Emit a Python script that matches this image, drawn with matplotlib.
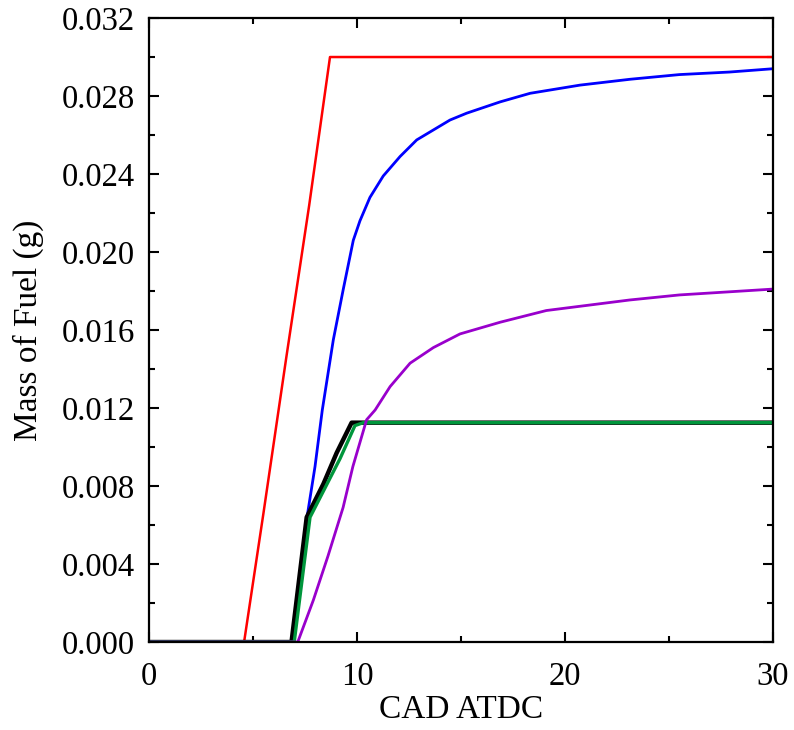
#!/usr/bin/env python
"""Cumulative injected / evaporated fuel mass vs crank angle."""

import matplotlib

matplotlib.use("Agg")
import matplotlib.pyplot as plt
from matplotlib.ticker import MultipleLocator, FormatStrFormatter

plt.rcParams["font.family"] = ["Liberation Serif", "DejaVu Serif"]

# data (CAD ATDC, g)
red_x = [0, 4.57, 5.5, 6.6, 7.7, 8.7, 30]
red_y = [0, 0, 0.0066, 0.0146, 0.0224, 0.030, 0.030]

blue_x = [0, 6.92, 7.2, 7.58, 7.98, 8.33, 8.86, 9.34, 9.82, 10.14, 10.62, 11.26,
          12.07, 12.87, 13.67, 14.47, 15.27, 16.88, 18.32, 20.72, 23.13, 25.5,
          27.9, 30]
blue_y = [0, 0, 0.0022, 0.0063, 0.0090, 0.0119, 0.0155, 0.0181, 0.0206, 0.0216,
          0.0228, 0.0239, 0.0249, 0.02575, 0.02626, 0.02677, 0.02712, 0.0277,
          0.02814, 0.02856, 0.02886, 0.0291, 0.02923, 0.0294]

purple_x = [0, 7.15, 7.9, 8.6, 9.33, 9.8, 10.46, 10.87, 11.59, 12.55, 13.67,
            14.95, 16.88, 19.1, 23.1, 25.5, 30]
purple_y = [0, 0, 0.00215, 0.0044, 0.0069, 0.0090, 0.0114, 0.0119, 0.0131,
            0.0143, 0.0151, 0.0158, 0.0164, 0.0170, 0.01754, 0.0178, 0.0181]

black_x = [0, 6.85, 7.58, 8.38, 9.02, 9.74, 30]
black_y = [0, 0, 0.0064, 0.0081, 0.0097, 0.01125, 0.01125]

green_x = [0, 6.98, 7.74, 8.46, 9.18, 9.9, 10.3, 30]
green_y = [0, 0, 0.0064, 0.0079, 0.0094, 0.0111, 0.01125, 0.01125]


def main() -> None:
    fig = plt.figure(figsize=(7.94, 7.30), dpi=100)
    ax = fig.add_axes([0.1877, 0.1205, 0.7859, 0.8548])

    ax.plot(red_x, red_y, color="#FF0000", lw=1.8)
    ax.plot(blue_x, blue_y, color="#0000FF", lw=2.0)
    ax.plot(black_x, black_y, color="black", lw=3.2)
    ax.plot(green_x, green_y, color="#00963C", lw=2.4)
    ax.plot(purple_x, purple_y, color="#9900CC", lw=2.0)

    ax.set_xlim(0, 30)
    ax.set_ylim(0, 0.032)
    ax.xaxis.set_major_locator(MultipleLocator(10))
    ax.xaxis.set_minor_locator(MultipleLocator(5))
    ax.yaxis.set_major_locator(MultipleLocator(0.004))
    ax.yaxis.set_minor_locator(MultipleLocator(0.002))
    ax.yaxis.set_major_formatter(FormatStrFormatter("%.3f"))

    ax.tick_params(which="both", direction="in", top=True, right=True,
                   labelsize=23.5, width=1.5)
    ax.tick_params(which="major", length=7)
    ax.tick_params(which="minor", length=4)
    ax.tick_params(axis="x", which="major", pad=14)
    ax.tick_params(axis="y", which="major", pad=10)
    for s in ax.spines.values():
        s.set_linewidth(1.6)

    ax.set_xlabel("CAD ATDC", fontsize=24, labelpad=2)
    ax.set_ylabel("Mass of Fuel (g)", fontsize=24, labelpad=13)

    fig.savefig("out.png", dpi=100)


if __name__ == "__main__":
    main()
